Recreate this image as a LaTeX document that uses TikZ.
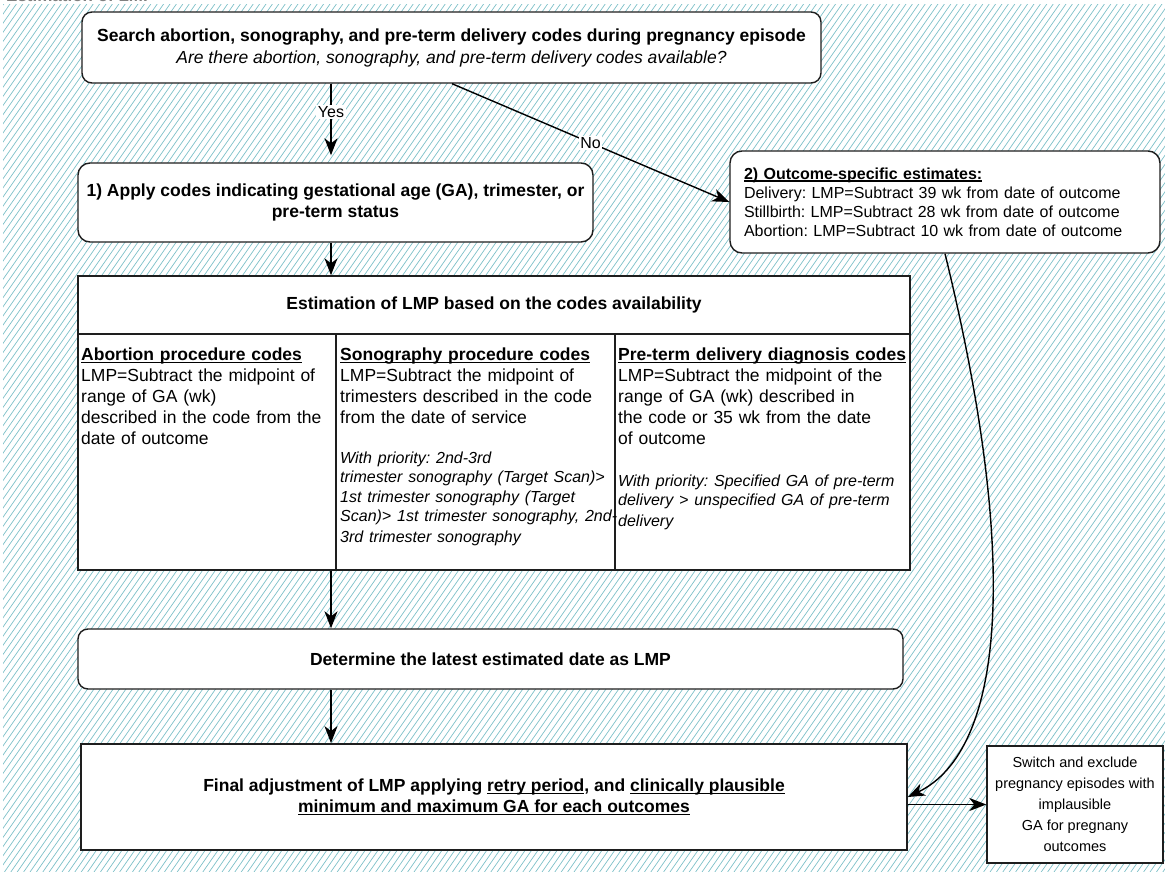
\documentclass[tikz,border=0pt]{standalone}
\usepackage{fontspec}
\setmainfont{Liberation Sans}
\usepackage{tikz}
\usetikzlibrary{arrows.meta}
\definecolor{hatchcol}{RGB}{125,192,200}
\definecolor{boxline}{RGB}{30,30,30}
\newlength{\undrlen}
\newcommand{\undr}[1]{\settowidth{\undrlen}{#1}\rlap{\rule[-2.3pt]{\undrlen}{1.1pt}}#1}
\frenchspacing

\begin{document}
\begin{tikzpicture}[x=1pt, y=-1pt]

      \tikzset{hatch/.style = {draw=hatchcol, line width=0.7pt}}
      \tikzset{rbox/.style = {draw=boxline, fill=white, line width=1.4pt, rounded corners=10pt, align=center}}
      \tikzset{sbox/.style = {draw=boxline, fill=white, line width=1.4pt, align=center}}
      \tikzset{coltxt/.style = {anchor=north west, align=left, inner sep=0pt, font=\fontsize{17.5}{21}\selectfont}}
      \tikzset{flow/.style = {-{Stealth[length=17pt,width=13pt,inset=5pt]}, line width=1.4pt}}
      \tikzset{answer/.style = {fill=white, inner sep=1.5pt, font=\fontsize{16}{18}\selectfont}}
      \useasboundingbox (0,0) rectangle (1165,872);
      % background
      \begin{scope}
        \clip (3,5) rectangle (1165,872);
        \foreach \i in {0,...,280}
          \draw[hatch] (\i*6.4-610,872) -- ++(610,-872);
      \end{scope}
      \begin{scope}
        \clip (0,0) rectangle (1165,5);
        \node[anchor=base west, inner sep=0pt, text=gray, font=\fontsize{17}{20}\selectfont\bfseries] (title) at (6,2) {Estimation of LMP};
      \end{scope}
      % vertices
      \node[rbox, minimum width=739pt, minimum height=71pt, font=\fontsize{17.5}{22}\selectfont] (search) at (451.5,47.5)
        {\textbf{Search abortion, sonography, and pre-term delivery codes during pregnancy episode}\\
         \textit{Are there abortion, sonography, and pre-term delivery codes available?}};
      \node[rbox, rounded corners=12pt, minimum width=515pt, minimum height=79pt, font=\fontsize{17.5}{21}\selectfont\bfseries] (apply) at (335.5,202.5)
        {1) Apply codes indicating gestational age (GA), trimester, or\\ pre-term status};
      \node[rbox, rounded corners=12pt, minimum width=430pt, minimum height=102pt, text width=402pt, align=left, font=\fontsize{16}{19}\selectfont] (outcome) at (945,202)
        {\textbf{\undr{2) Outcome-specific estimates:}}\\
         Delivery: LMP=Subtract 39 wk from date of outcome\\
         Stillbirth: LMP=Subtract 28 wk from date of outcome\\
         Abortion: LMP=Subtract 10 wk from date of outcome};
      \node[sbox, minimum width=832pt, minimum height=58pt, font=\fontsize{17.5}{21}\selectfont\bfseries] (lmphead) at (494,305)
        {Estimation of LMP based on the codes availability};
      \node[sbox, minimum width=258pt, minimum height=236pt] (abortcol) at (207,452) {};
      \node[sbox, minimum width=279pt, minimum height=236pt] (sonocol) at (475.5,452) {};
      \node[sbox, minimum width=295pt, minimum height=236pt] (pretermcol) at (762.5,452) {};
      \node[coltxt, text width=255pt] (aborttxt) at (81,348)
        {\textbf{\undr{Abortion procedure codes}}\\
         LMP=Subtract the midpoint of\\
         range of GA (wk)\\
         described in the code from the\\
         date of outcome};
      \node[coltxt, text width=285pt] (sonotxt) at (340,348)
        {\textbf{\undr{Sonography procedure codes}}\\
         LMP=Subtract the midpoint of\\
         trimesters described in the code\\
         from the date of service\par\vspace{20pt}
         \fontsize{16}{19.5}\selectfont\itshape
         With priority: 2nd-3rd\\
         trimester sonography (Target Scan)>\\
         1st trimester sonography (Target\\
         Scan)> 1st trimester sonography, 2nd-\\
         3rd trimester sonography};
      \node[coltxt, text width=292pt] (pretermtxt) at (618,348)
        {\textbf{\undr{Pre-term delivery diagnosis codes}}\\
         LMP=Subtract the midpoint of the\\
         range of GA (wk) described in\\
         the code or 35 wk from the date\\
         of outcome\par\vspace{22pt}
         \fontsize{16}{19.5}\selectfont\itshape
         With priority: Specified GA of pre-term\\
         delivery > unspecified GA of pre-term\\
         delivery};
      \node[rbox, minimum width=825pt, minimum height=60pt, font=\fontsize{17.5}{21}\selectfont\bfseries] (latest) at (490.5,659)
        {Determine the latest estimated date as LMP};
      \node[sbox, line width=1.8pt, minimum width=826pt, minimum height=106pt, font=\fontsize{17.5}{21}\selectfont\bfseries] (final) at (494,797)
        {Final adjustment of LMP applying \undr{retry period}, and \undr{clinically plausible}\\
         \undr{minimum and maximum GA for each outcomes}};
      \node[sbox, minimum width=176pt, minimum height=117pt, font=\fontsize{14.5}{21}\selectfont] (switch) at (1075,804.5)
        {Switch and exclude\\ pregnancy episodes with\\ implausible\\ GA for pregnany\\ outcomes};
      %edges
      \coordinate (spine) at (331,0);
      \coordinate (nofork) at (452,0);
      \draw[flow, shorten >=7pt] (search.south -| spine) -- node[answer, pos=0.36] {Yes} (apply.north -| spine);
      \draw[flow] (search.south -| nofork) -- node[answer, pos=0.5] {No} (outcome.west);
      \draw[flow] (apply.south -| spine) -- (lmphead.north -| spine);
      \draw[flow] (abortcol.south -| spine) -- (latest.north -| spine);
      \draw[flow] (latest.south -| spine) -- (final.north -| spine);
      \draw[flow] (outcome.south) .. controls (1020,560) and (1005,750) .. (final.east);
      \draw[flow] (switch.west -| final.east) -- (switch.west);

\end{tikzpicture}
\end{document}
